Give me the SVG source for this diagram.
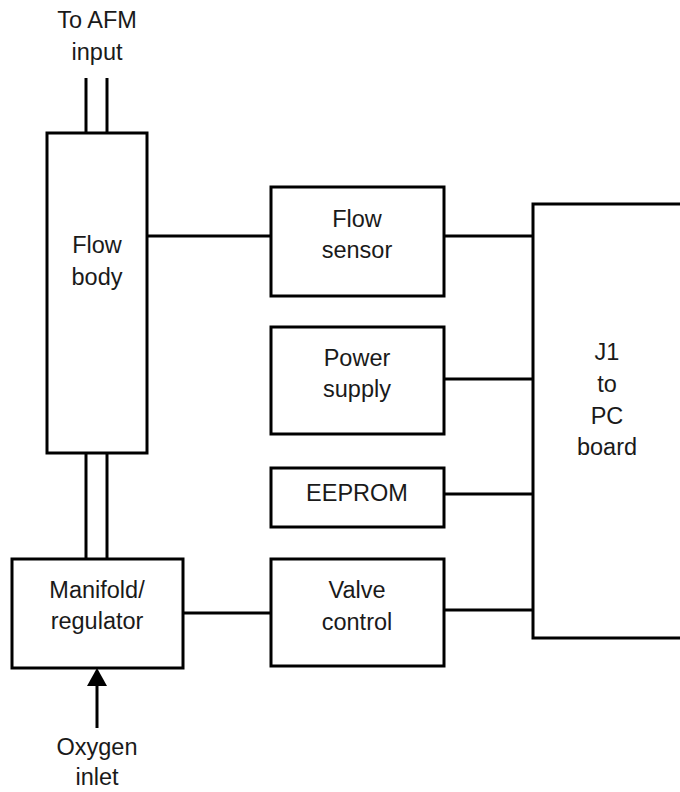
<svg xmlns="http://www.w3.org/2000/svg" width="680" height="792" viewBox="0 0 680 792">
<style>
.b{fill:none;stroke:#000;stroke-width:3}
.l{fill:none;stroke:#000;stroke-width:3}
text{font-family:"Liberation Sans",Arial,sans-serif;font-size:23.5px;fill:#1a1a1a;text-anchor:middle}
</style>
<rect width="680" height="792" fill="#fff"/>
<g id="connectors">
<line class="l" x1="86" y1="78" x2="86" y2="133"/>
<line class="l" x1="107" y1="78" x2="107" y2="133"/>
<line class="l" x1="86" y1="453" x2="86" y2="559"/>
<line class="l" x1="107" y1="453" x2="107" y2="559"/>
<line class="l" x1="147" y1="236" x2="271" y2="236"/>
<line class="l" x1="444" y1="236" x2="533" y2="236"/>
<line class="l" x1="444" y1="379" x2="533" y2="379"/>
<line class="l" x1="444" y1="494" x2="533" y2="494"/>
<line class="l" x1="444" y1="610" x2="533" y2="610"/>
<line class="l" x1="183" y1="613" x2="271" y2="613"/>
<line class="l" x1="97" y1="728" x2="97" y2="686"/>
<path d="M87,686 L97,668 L107,686 Z" fill="#000"/>
</g>
<g id="afm-label">
<text x="97" y="28">To AFM</text>
<text x="97" y="60">input</text>
</g>
<g id="flow-body">
<rect class="b" x="47" y="133" width="100" height="320"/>
<text x="97" y="253">Flow</text>
<text x="97" y="285">body</text>
</g>
<g id="manifold">
<rect class="b" x="12" y="559" width="171" height="109"/>
<text x="97" y="598">Manifold/</text>
<text x="97" y="629">regulator</text>
</g>
<g id="oxygen-label">
<text x="97" y="755">Oxygen</text>
<text x="97" y="785">inlet</text>
</g>
<g id="flow-sensor">
<rect class="b" x="271" y="187" width="173" height="109"/>
<text x="357" y="227">Flow</text>
<text x="357" y="258">sensor</text>
</g>
<g id="power-supply">
<rect class="b" x="271" y="327" width="173" height="107"/>
<text x="357" y="366">Power</text>
<text x="357" y="397">supply</text>
</g>
<g id="eeprom">
<rect class="b" x="271" y="468" width="173" height="59"/>
<text x="357" y="501">EEPROM</text>
</g>
<g id="valve-control">
<rect class="b" x="271" y="559" width="173" height="107"/>
<text x="357" y="598">Valve</text>
<text x="357" y="630">control</text>
</g>
<g id="j1">
<path class="b" d="M682,204 H533 V638 H682"/>
<text x="607" y="360">J1</text>
<text x="607" y="392">to</text>
<text x="607" y="424">PC</text>
<text x="607" y="455">board</text>
</g>
</svg>
